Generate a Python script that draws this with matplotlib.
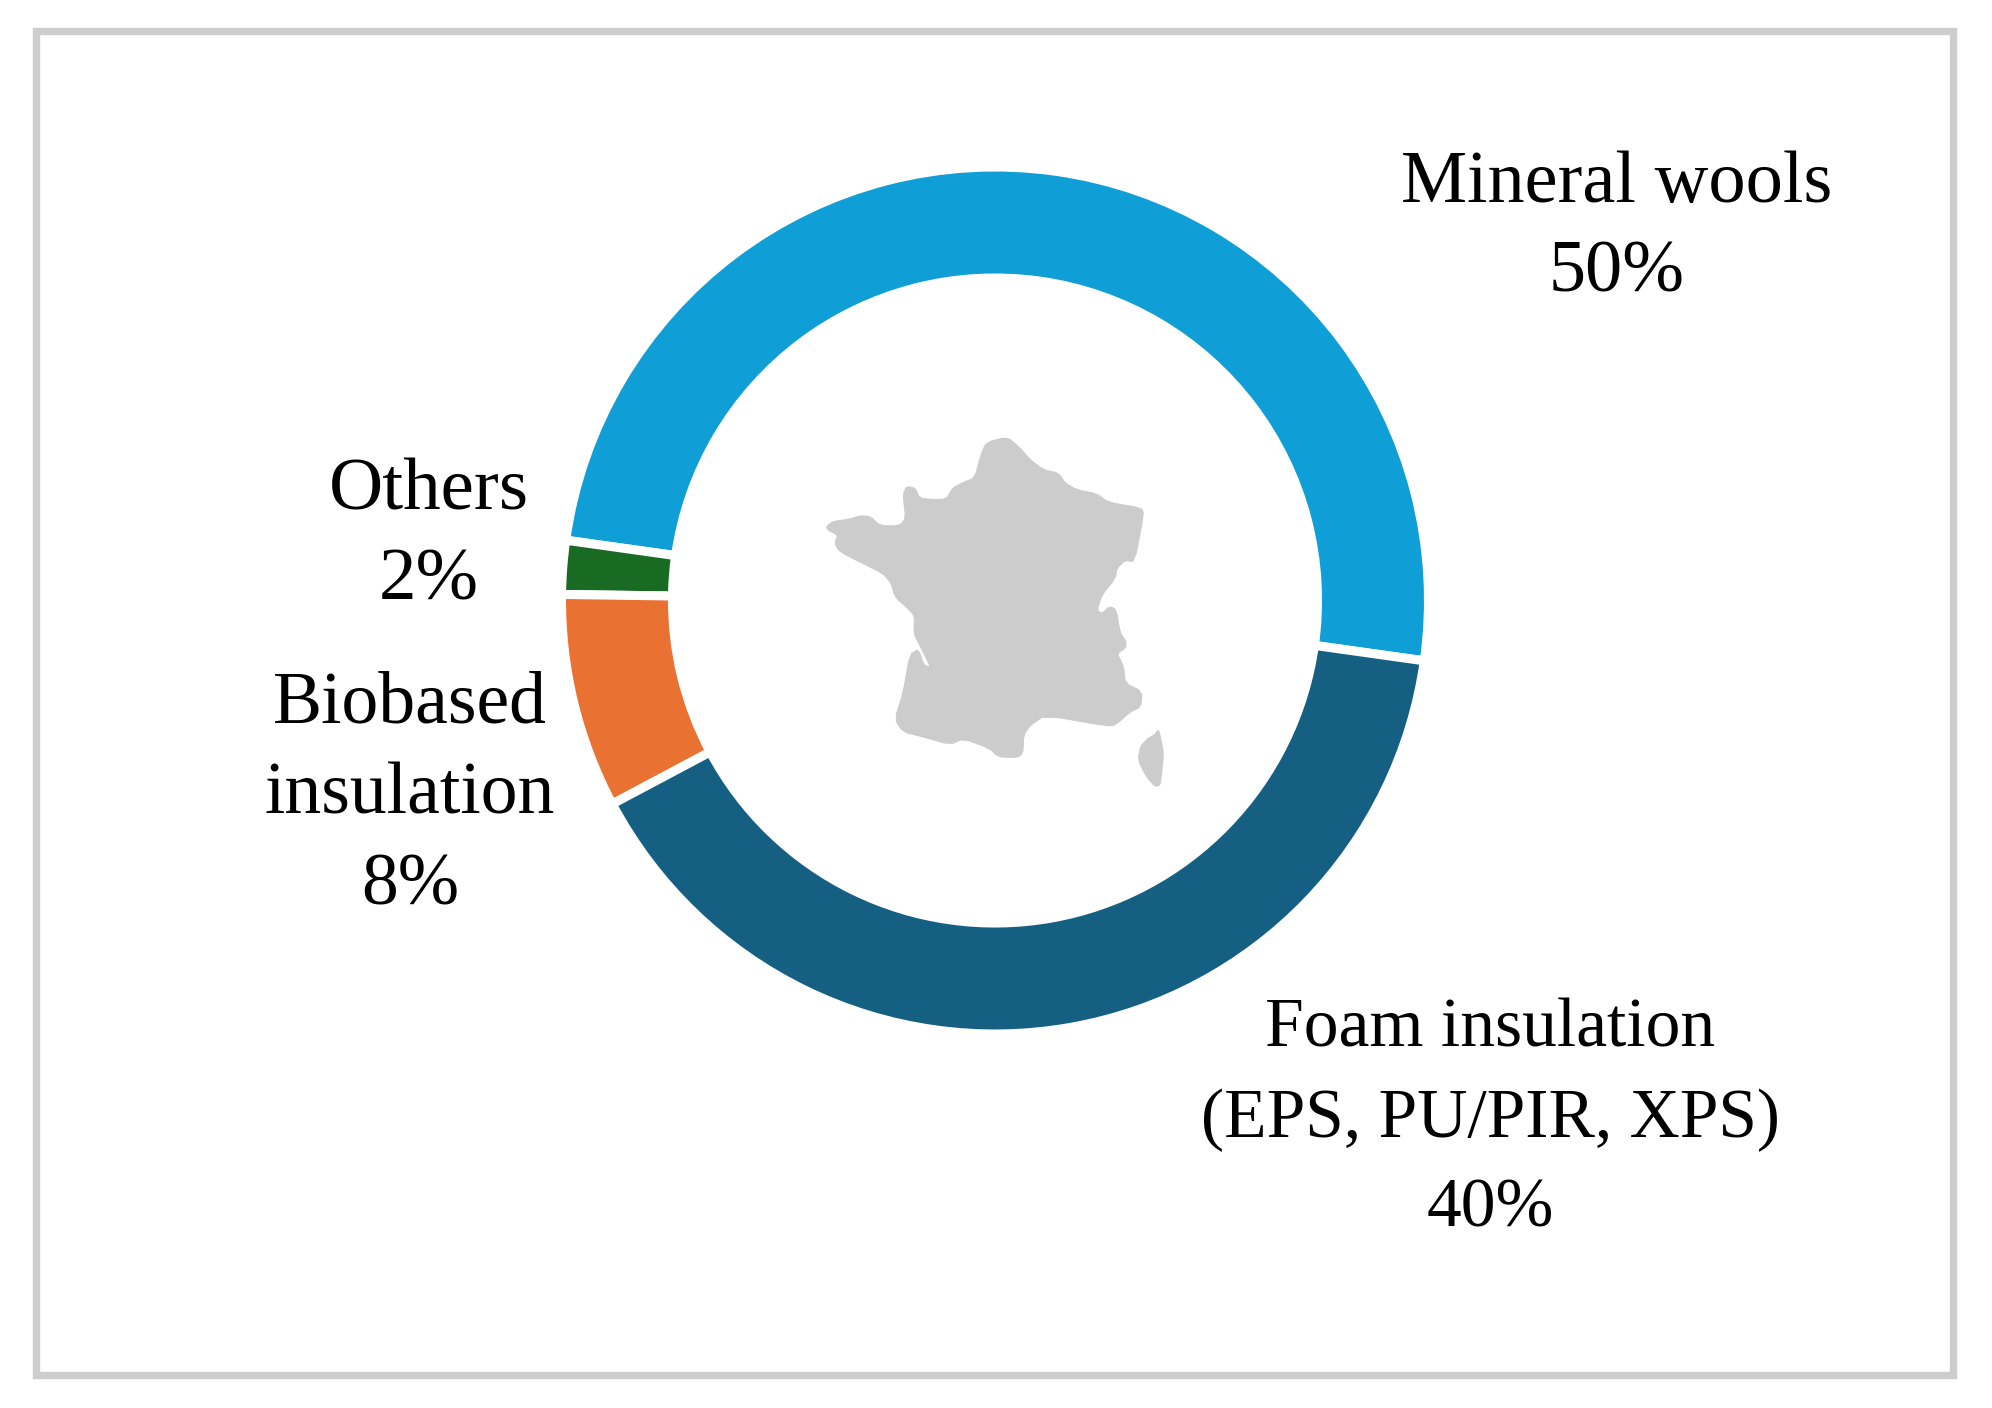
import matplotlib
matplotlib.use("Agg")
import matplotlib.pyplot as plt
from matplotlib.patches import Polygon, Rectangle

W, H = 1992, 1408

# shares, counter-clockwise from the first slice
categories = ["Mineral wools", "Others", "Biobased\ninsulation", "Foam insulation\n(EPS, PU/PIR, XPS)"]
shares = [50, 2, 8, 40]
colors = ["#0F9ED5", "#196B24", "#E97132", "#156082"]

# label centres in reference pixels, sizes fitted to each label's width
label_x = [1617, 429, 410, 1490]
label_y = [229, 537, 796, 1120]
label_size = [53.5, 54, 53, 50]
LINE_PITCH = 95.5

france_x = [80, 100, 150, 180, 210, 240, 300, 318, 310, 320, 345, 358, 400, 440, 458, 490, 525, 545, 560, 620,
            655, 690, 730, 775, 795, 830, 890, 925, 1025, 1030, 1003, 975, 950, 945, 905, 890, 905, 930, 948, 960,
            978, 975, 950, 970, 975, 1025, 1022, 990, 945, 920, 735, 690, 670, 668, 650, 595, 570, 490, 450, 370,
            310, 285, 310, 330, 355, 370, 395, 360, 342, 345, 330, 285, 275, 250, 190, 120, 105, 115, 85]
france_y = [320, 305, 298, 288, 290, 318, 318, 295, 225, 200, 205, 235, 240, 238, 205, 188, 175, 100, 68, 52,
            80, 120, 150, 160, 190, 210, 222, 248, 265, 285, 425, 420, 445, 475, 525, 570, 582, 560, 570, 640,
            665, 685, 700, 740, 790, 815, 860, 875, 915, 917, 885, 915, 945, 1000, 1012, 1010, 985, 955, 973, 950,
            935, 898, 820, 705, 688, 735, 745, 675, 640, 590, 570, 530, 490, 460, 430, 395, 370, 345, 330]
corsica_x = [1075, 1080, 1090, 1085, 1080, 1065, 1040, 1015, 1022, 1045, 1065]
corsica_y = [930, 950, 1000, 1050, 1095, 1098, 1070, 1020, 980, 955, 945]

fig = plt.figure(figsize=(W / 100, H / 100), dpi=100, facecolor="white")

# overlay in reference pixels for frame, map and labels
bg = fig.add_axes([0, 0, 1, 1])
bg.set_xlim(0, W)
bg.set_ylim(H, 0)
bg.axis("off")
bg.add_patch(Rectangle((36, 30.5), 1916.5, 1344, fill=False, edgecolor="#CDCDCD", linewidth=5.3))


def crop_to_px(xs, ys):
    return [(800 + x / 3, 420 + y / 3) for x, y in zip(xs, ys)]


def soften(points):
    # one pass of corner cutting, the traced outline is rougher than the original map
    new_points = []
    for i, (x0, y0) in enumerate(points):
        x1, y1 = points[(i + 1) % len(points)]
        new_points.append((0.8 * x0 + 0.2 * x1, 0.8 * y0 + 0.2 * y1))
        new_points.append((0.2 * x0 + 0.8 * x1, 0.2 * y0 + 0.8 * y1))
    return new_points


for xs, ys in [(france_x, france_y), (corsica_x, corsica_y)]:
    bg.add_patch(Polygon(soften(crop_to_px(xs, ys)), closed=True, facecolor="#CCCCCC", edgecolor="#CCCCCC",
                         linewidth=1.2, joinstyle="round"))

# donut, radius includes the half of the white edge that covers the ring
cx, cy, r = 995, 600.5, 433.5
half = r * 1.25
ax = fig.add_axes([(cx - half) / W, 1 - (cy + half) / H, 2 * half / W, 2 * half / H])
ax.pie(shares, colors=colors, startangle=-8, counterclock=True,
       wedgeprops={"width": 0.256, "edgecolor": "white", "linewidth": 6.5})
ax.set_xlim(-1.25, 1.25)
ax.set_ylim(-1.25, 1.25)

for name, share, x, y, size in zip(categories, shares, label_x, label_y, label_size):
    bg.text(x, y, f"{name}\n{share}%", ha="center", va="center", fontsize=size,
            family="Liberation Serif", color="black", linespacing=LINE_PITCH / (1.237 * size), zorder=5)

fig.savefig("out.png", dpi=100)
